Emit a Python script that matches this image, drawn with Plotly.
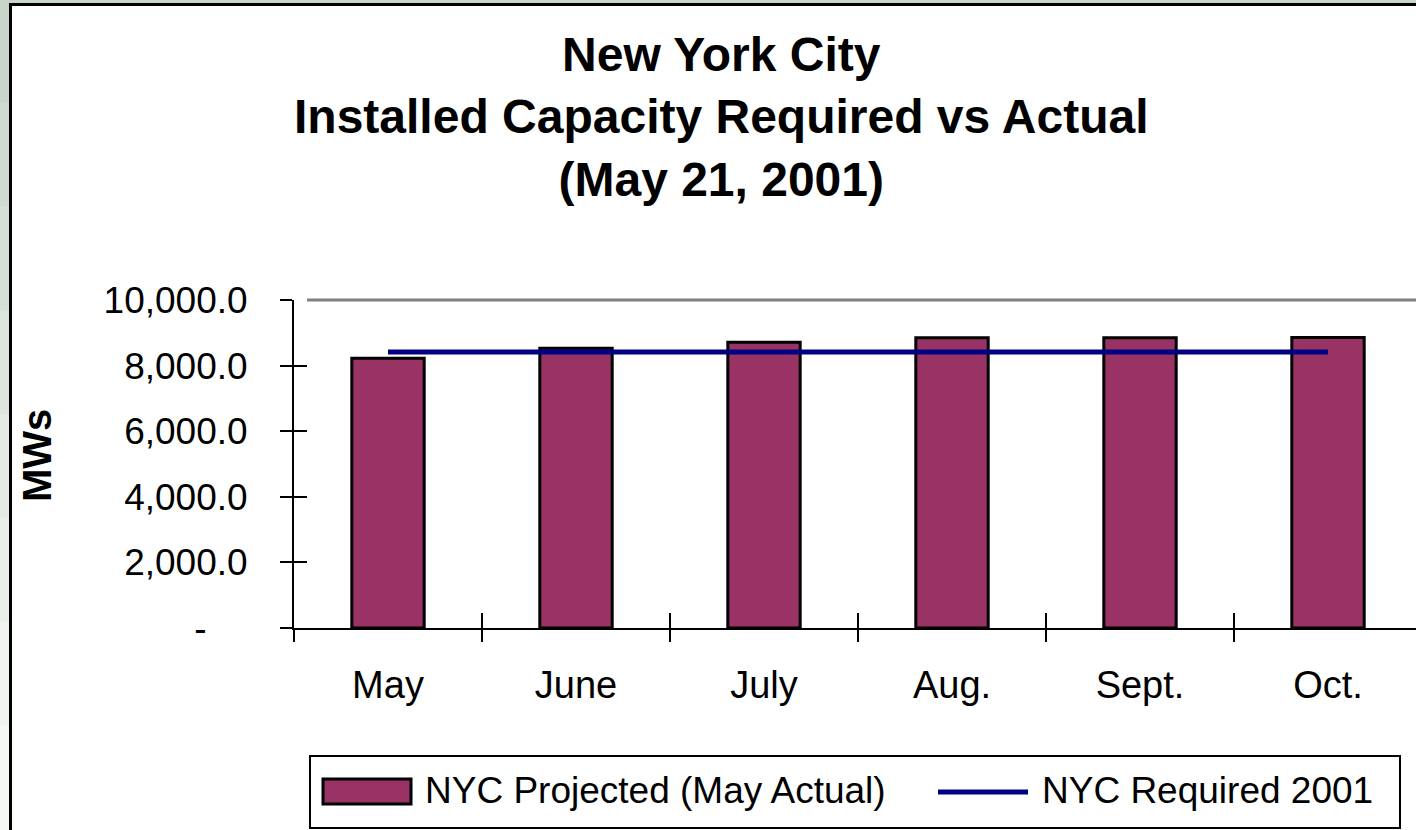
import plotly.graph_objects as go

# ---- data ----
months = ["May", "June", "July", "Aug.", "Sept.", "Oct."]
projected = [8224, 8529, 8711, 8852, 8850, 8853]
required = [8416, 8416, 8416, 8416, 8416, 8416]
y_tickvals = [0, 2000, 4000, 6000, 8000, 10000]
y_ticktext = ["-\u00a0\u00a0\u00a0\u00a0", "2,000.0", "4,000.0", "6,000.0", "8,000.0", "10,000.0"]
series_names = ["NYC Projected (May Actual)", "NYC Required 2001"]
title_lines = ["New York City", "Installed Capacity Required vs Actual", "(May 21, 2001)"]
y_title = "MWs"

BAR_COLOR = "#993366"
LINE_COLOR = "#000080"

# ---- layout geometry (pixels) ----
W, H = 1416, 830
L, R, T, B = 294, 0, 300, 202
PW = W - L - R
PH = H - T - B
CAT_PX = 188.0  # width of one category slot


def px_x(px):
    return (px - L) / PW


def px_y(py):
    return (H - B - py) / PH


FONT = "Liberation Sans, Arial, sans-serif"
xr = [-0.5, -0.5 + PW / CAT_PX]
yr = [0, 10000]

fig = go.Figure()
fig.add_trace(go.Bar(
    x=months, y=projected, name=series_names[0],
    marker=dict(color=BAR_COLOR, line=dict(color="black", width=3)),
    width=0.385, showlegend=False,
))
fig.add_trace(go.Scatter(
    x=months, y=required, name=series_names[1], mode="lines",
    line=dict(color=LINE_COLOR, width=5),
    xaxis="x2", yaxis="y2", showlegend=False,
))

common_x = dict(type="category", categoryorder="array", categoryarray=months,
                range=xr, showgrid=False, zeroline=False, fixedrange=True,
                tickson="boundaries", tickcolor="black", tickwidth=2)
common_y = dict(range=yr, tickmode="array", tickvals=y_tickvals, showgrid=False,
                zeroline=False, fixedrange=True, tickcolor="black", tickwidth=2)

fig.update_layout(
    width=W, height=H,
    margin=dict(l=L, r=R, t=T, b=B, pad=0),
    paper_bgcolor="#dfe6e0",
    plot_bgcolor="white",
    font=dict(family=FONT, color="black"),
    xaxis=dict(**common_x, showline=True, linecolor="black", linewidth=2,
               ticks="outside", ticklen=12, tickfont=dict(size=38),
               ticklabelstandoff=22),
    xaxis2=dict(**common_x, overlaying="x", anchor="y2", side="bottom",
                showline=False, ticks="inside", ticklen=15, showticklabels=False),
    yaxis=dict(**common_y, ticktext=y_ticktext, showline=True, linecolor="black",
               linewidth=2, ticks="outside", ticklen=12, tickfont=dict(size=37),
               ticklabelstandoff=25),
    yaxis2=dict(**common_y, overlaying="y", anchor="x2", side="left",
                showline=False, ticks="inside", ticklen=13, showticklabels=False),
    showlegend=False,
)

# slide background gradient strip (left / top edge)
bands = ["#c9d5cb", "#cfdad1", "#d6dfd7", "#dde5de", "#e4eae4", "#eaefea", "#f0f3f0", "#f5f7f5"]
for i, c in enumerate(bands):
    fig.add_shape(type="rect", xref="paper", yref="paper",
                  x0=px_x(-5), x1=px_x(1440),
                  y0=px_y((i + 1) * H / len(bands) + 1), y1=px_y(i * H / len(bands) - 1),
                  line=dict(width=0), fillcolor=c, layer="below")

# chart-area frame and plot-area top border
fig.add_shape(type="rect", xref="paper", yref="paper",
              x0=px_x(10.5), x1=px_x(1440), y0=px_y(860), y1=px_y(4.5),
              line=dict(color="black", width=3), fillcolor="white", layer="below")
fig.add_shape(type="line", xref="paper", yref="paper",
              x0=px_x(307), x1=1.0, y0=1.0, y1=1.0,
              line=dict(color="#808080", width=3), layer="below")

# title
fig.add_annotation(text="<b>" + "<br>".join(title_lines) + "</b>",
                   xref="paper", yref="paper", x=px_x(721), y=px_y(117),
                   xanchor="center", yanchor="middle", showarrow=False,
                   font=dict(size=48, family=FONT, color="black"))

# y-axis title
fig.add_annotation(text="<b>" + y_title + "</b>", textangle=-90,
                   xref="paper", yref="paper", x=px_x(37), y=px_y(456),
                   xanchor="center", yanchor="middle", showarrow=False,
                   font=dict(size=40, family=FONT, color="black"))

# legend box (drawn to match the original's wide swatches)
fig.add_shape(type="rect", xref="paper", yref="paper",
              x0=px_x(310), x1=px_x(1400), y0=px_y(828), y1=px_y(756),
              line=dict(color="black", width=2), fillcolor="white")
fig.add_shape(type="rect", xref="paper", yref="paper",
              x0=px_x(323), x1=px_x(411), y0=px_y(804), y1=px_y(779),
              line=dict(color="black", width=3), fillcolor=BAR_COLOR)
fig.add_shape(type="line", xref="paper", yref="paper",
              x0=px_x(938), x1=px_x(1028), y0=px_y(792), y1=px_y(792),
              line=dict(color=LINE_COLOR, width=5))
for name, xpos in zip(series_names, [423, 1040]):
    fig.add_annotation(text=name, xref="paper", yref="paper",
                       x=px_x(xpos), y=px_y(790), xanchor="left", yanchor="middle",
                       showarrow=False, font=dict(size=37, family=FONT, color="black"))

fig.write_html(
    "out.html",
    config={"displayModeBar": False},
    post_script="document.body.style.margin='0';document.body.style.overflow='hidden';",
)
